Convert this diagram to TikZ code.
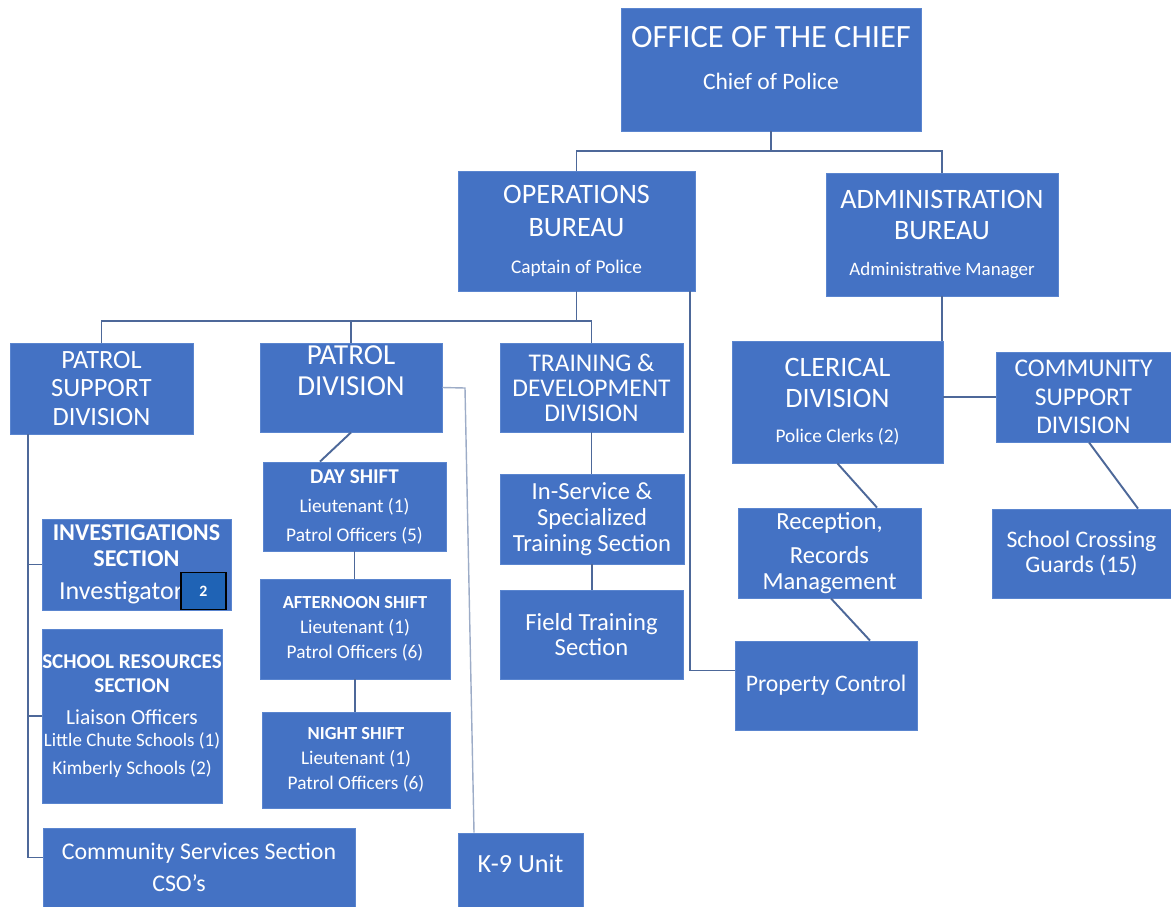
\documentclass[tikz,border=0pt]{standalone}
\usepackage{fontspec}
\setmainfont{Carlito}
\usepackage{xcolor}
\usetikzlibrary{positioning}
\definecolor{orgblue}{HTML}{4472C4}
\definecolor{orgedge}{HTML}{5A85CF}
\definecolor{orgline}{HTML}{4D6899}
\definecolor{numblue}{HTML}{1F63B5}
\newcommand{\setfs}[2]{\fontsize{#1}{#2}\selectfont}

\begin{document}
\begin{tikzpicture}[x=0.02cm, y=-0.02cm,
		unit/.style={rectangle, fill=orgblue, draw=orgedge, line width=0.5pt, text=white, align=center, inner sep=0pt},
		wh/.style 2 args={minimum width=#1*0.02cm, minimum height=#2*0.02cm},
		link/.style={draw=orgline, line width=1.1pt},
		thinlink/.style={draw=orgline!55!white, line width=0.8pt}]
		\useasboundingbox (0,0) rectangle (1171,907);
		% top level
		\node[unit, wh={300}{123}, text depth=13.5pt, font=\setfs{18.5}{22}] (chief) at (771,69.5) {OFFICE OF THE CHIEF\\[2pt]\setfs{13.4}{16}Chief of Police};
		\node[unit, wh={237}{120}, font=\setfs{16}{18.5}] (ops) at (576.5,231) {OPERATIONS\\BUREAU\\[2.5pt]\setfs{11}{13}Captain of Police};
		\node[unit, wh={232}{123}, font=\setfs{16}{17.8}] (admin) at (942,234.5) {ADMINISTRATION\\BUREAU\\[3pt]\setfs{10.8}{13}Administrative Manager};
		% divisions
		\node[unit, wh={183}{91}, font=\setfs{15}{16.2}] (psd) at (101.5,388.5) {PATROL\\SUPPORT\\DIVISION};
		\node[unit, wh={182}{89}, text depth=19.5pt, font=\setfs{16.5}{17.6}] (pd) at (351,387.5) {PATROL\\DIVISION};
		\node[unit, wh={183}{89}, font=\setfs{14.5}{14.2}] (td) at (591.5,387.5) {TRAINING \&\\DEVELOPMENT\\DIVISION};
		\node[unit, wh={211}{122}, font=\setfs{16}{17.6}] (cler) at (837.5,402) {CLERICAL\\DIVISION\\[2.5pt]\setfs{11}{13}Police Clerks (2)};
		\node[unit, wh={175}{90}, font=\setfs{14.5}{16.2}] (csd) at (1083.5,397) {COMMUNITY\\SUPPORT\\DIVISION};
		% shifts
		\node[unit, wh={183}{89}, font=\setfs{11}{16.5}] (day) at (354.5,506.5) {\setfs{12}{16.5}\bfseries DAY SHIFT\\Lieutenant (1)\\Patrol Officers (5)};
		\node[unit, wh={190}{100}, font=\setfs{11}{14.2}] (aft) at (355,629) {\setfs{10.5}{14}\bfseries AFTERNOON SHIFT\\Lieutenant (1)\\Patrol Officers (6)};
		\node[unit, wh={188}{96}, font=\setfs{11}{14.2}] (night) at (356,760) {\setfs{10.5}{14}\bfseries NIGHT SHIFT\\Lieutenant (1)\\Patrol Officers (6)};
		% patrol support sections
		\node[unit, wh={189}{91}, font={\setfs{13.7}{14.7}\bfseries}] (inv) at (136.5,564.5) {INVESTIGATIONS\\SECTION\\[4.5pt]\setfs{14.8}{15}\mdseries Investigator\rule{17.6pt}{0pt}};
		\node[unit, wh={45}{37}, fill=numblue, draw=black, line width=0.8pt, font={\setfs{9}{10}\bfseries}] (inv2) at (203.5,591) {2};
		\node[unit, wh={180}{174}, font={\setfs{12}{13.6}\bfseries}] (srs) at (132,716) {SCHOOL RESOURCES\\SECTION\\[4.5pt]\setfs{12.2}{15}\mdseries Liaison Officers\\[-1pt]\setfs{10.8}{13}\mdseries Little Chute Schools (1)\\[2.3pt]\setfs{11}{13}\mdseries Kimberly Schools (2)};
		\node[unit, wh={312}{79}, font=\setfs{13.6}{18}] (css) at (199,867.5) {Community Services Section\\CSO’s\rule{22.7pt}{0pt}};
		\node[unit, wh={125}{74}, text depth=7pt, font=\setfs{14.9}{16}] (k9) at (520.5,870) {K-9 Unit};
		% training
		\node[unit, wh={184}{90}, font=\setfs{14}{14.7}] (isv) at (592,519) {In-Service \&\\Specialized\\Training Section};
		\node[unit, wh={183}{89}, font=\setfs{14}{14.2}] (fts) at (591.5,634.5) {Field Training\\Section};
		% admin side
		\node[unit, wh={183}{90}, font=\setfs{14}{14.7}] (rec) at (829.5,553) {Reception,\\[5pt]Records\\Management};
		\node[unit, wh={182}{89}, font=\setfs{13.5}{16}] (prop) at (826,685.5) {Property Control};
		\node[unit, wh={179}{89}, font=\setfs{13.5}{14.2}] (scg) at (1081.5,553.5) {School Crossing\\Guards (15)};

		\coordinate (topbus) at (771,151);
		\draw[link] (chief.south) -- (topbus);
		\draw[link] (ops.north) |- (topbus) -| (admin.north);
		\coordinate (opsbus) at (576.5,321);
		\draw[link] (ops.south) -- (opsbus);
		\draw[link] (psd.north) |- (opsbus) -| (td.north);
		\draw[link] (pd.north) -- (pd.north |- opsbus);
		\draw[link] ([xshift=-0.1cm]ops.south east) |- ([yshift=0.3cm]prop.west);
		\draw[link] (admin.south) -- (admin.south |- cler.north);
		\draw[link] (csd.west) -- (csd.west -| cler.east);
		\draw[link] (cler.south) -- ([xshift=0.95cm]rec.north);
		\draw[link] ([xshift=0.03cm]rec.south) -- ([xshift=0.88cm]prop.north);
		\draw[link] ([xshift=0.11cm]csd.south) -- ([xshift=1.13cm]scg.north);
		\draw[link] (pd.south) -- ([xshift=-0.69cm]day.north);
		\draw[link] (day.south) -- (day.south |- aft.north);
		\draw[link] (aft.south) -- (aft.south |- night.north);
		\draw[link] (td.south) -- (td.south |- isv.north);
		\draw[link] (isv.south) -- (isv.south |- fts.north);
		\coordinate (k9bend) at (465,388);
		\draw[thinlink] (pd.east) -- (k9bend) -- ([xshift=-0.93cm]k9.north);
		\coordinate (spine) at ([xshift=0.36cm]psd.south west);
		\draw[link] (spine) |- ([yshift=0.2cm]css.west);
		\draw[link] (inv.west) -- (inv.west -| spine);
		\draw[link] (srs.west) -- (srs.west -| spine);
	\end{tikzpicture}
\end{document}
